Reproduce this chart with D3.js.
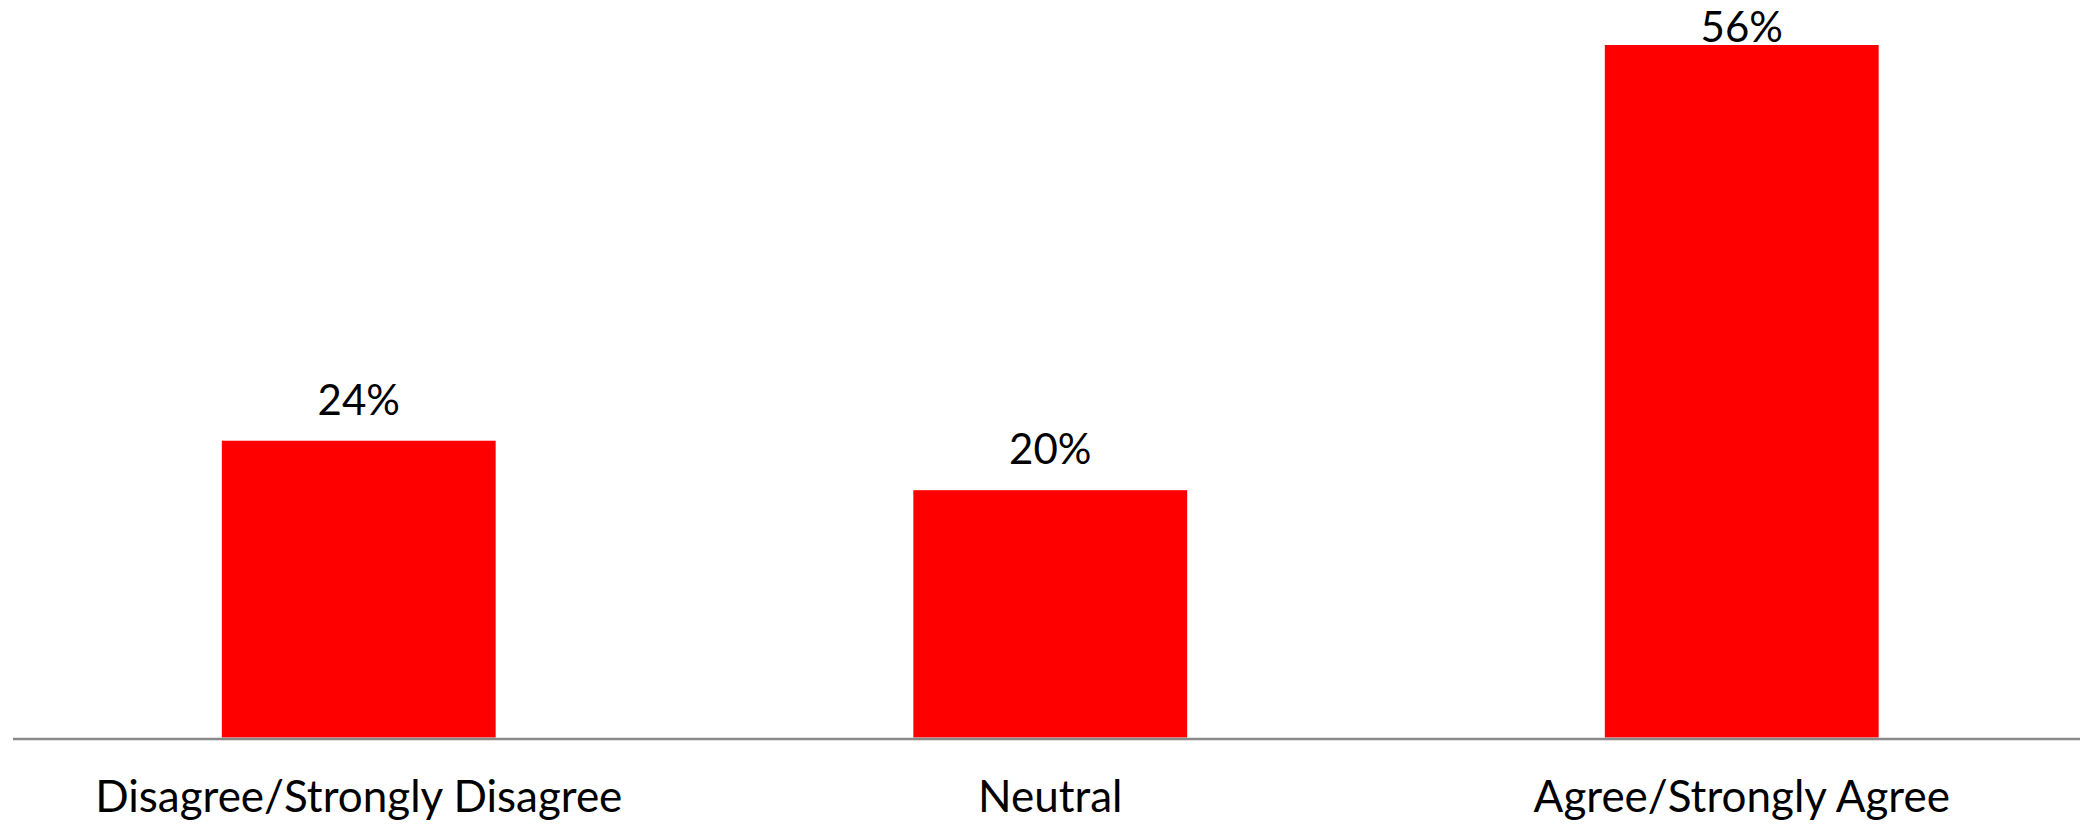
<!DOCTYPE html>
<html>
<head>
<meta charset="utf-8">
<script src="https://cdn.jsdelivr.net/npm/d3@7"></script>
<style>
  html, body { margin: 0; padding: 0; background: #fff; }
  svg { display: block; }
  text { font-family: Lato, "Open Sans", sans-serif; fill: #000; }
</style>
</head>
<body>
<svg id="chart" width="2080" height="825"></svg>
<script>
const categories = ["Disagree/Strongly Disagree", "Neutral", "Agree/Strongly Agree"];
const values = [24, 20, 56];
const valueLabels = ["24%", "20%", "56%"];

const W = 2080, H = 825;
const svg = d3.select("#chart");

const x = d3.scaleBand()
  .domain(categories)
  .range([13, 2087.5])
  .paddingInner(0.604)
  .paddingOuter(0.302);

const y = d3.scaleLinear()
  .domain([0, 56])
  .range([737.5, 45]);

svg.selectAll("rect.bar")
  .data(values)
  .enter().append("rect")
  .attr("class", "bar")
  .attr("x", (d, i) => x(categories[i]))
  .attr("width", x.bandwidth())
  .attr("y", d => y(d))
  .attr("height", d => y(0) - y(d))
  .attr("fill", "#ff0000");

// axis baseline
const xAxis = d3.axisBottom(x).tickSize(0).tickPadding(0);
const gx = svg.append("g")
  .attr("transform", `translate(0,${y(0) + 1.5})`)
  .call(xAxis);
gx.select(".domain").attr("stroke", "#898989").attr("stroke-width", 2.5)
  .attr("d", "M13,0H2080");
gx.selectAll(".tick text")
  .attr("y", 0)
  .attr("dy", 0)
  .attr("transform", "translate(0,73)")
  .style("font-size", "44px")
  .style("font-family", "Lato, 'Open Sans', sans-serif")
  .attr("fill", "#000");

svg.selectAll("text.val")
  .data(values)
  .enter().append("text")
  .attr("class", "val")
  .attr("x", (d, i) => x(categories[i]) + x.bandwidth() / 2)
  .attr("y", d => Math.max(y(d) - 26, 42))
  .attr("text-anchor", "middle")
  .style("font-size", "42px")
  .text((d, i) => valueLabels[i]);
</script>
</body>
</html>
